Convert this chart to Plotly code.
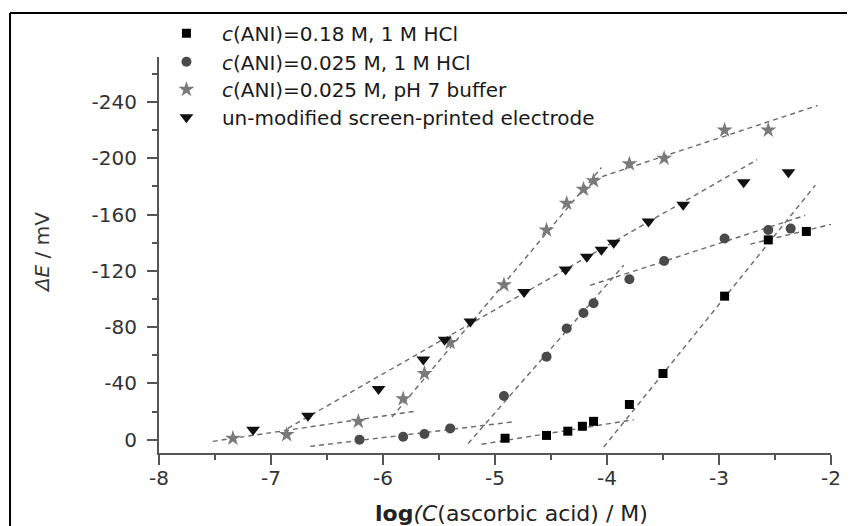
import plotly.graph_objects as go

# ---- data ----
x_sq = [-4.91, -4.54, -4.35, -4.22, -4.12, -3.80, -3.50, -2.95, -2.56, -2.22]
y_sq = [-1, -3, -6, -9.5, -13, -25, -47, -102, -142, -148]

x_ci = [-6.21, -5.82, -5.63, -5.40, -4.92, -4.54, -4.36, -4.21, -4.12, -3.80, -3.49, -2.95, -2.56, -2.36]
y_ci = [0, -2, -4, -8, -31, -59, -79, -90, -97, -114, -127, -143, -149, -150]

x_st = [-7.34, -6.86, -6.22, -5.82, -5.63, -5.40, -4.92, -4.54, -4.36, -4.21, -4.12, -3.80, -3.49, -2.95, -2.56]
y_st = [-1, -3.5, -13, -29, -47, -69, -110, -149, -168, -178, -184, -196, -200, -220, -220]

x_tr = [-7.16, -6.67, -6.04, -5.64, -5.45, -5.22, -4.74, -4.37, -4.18, -4.05, -3.94, -3.63, -3.32, -2.78, -2.38]
y_tr = [-7, -17, -36, -57, -71, -84, -105, -121, -130, -135, -140, -155, -167, -183, -190]

# dashed linear-fit segments (endpoints)
fit_sq_x = [[-5.12, -3.76], [-4.03, -2.14], [-2.72, -1.95]]
fit_sq_y = [[3.3, -14.2], [5.3, -180.8], [-139, -154]]
fit_ci_x = [[-6.65, -4.85], [-5.24, -3.85], [-4.15, -2.23]]
fit_ci_y = [[4.8, -12.5], [2.8, -124], [-109.7, -159.4]]
fit_st_x = [[-7.52, -5.72], [-5.92, -4.05], [-4.12, -2.12]]
fit_st_y = [[1.2, -20.1], [-16, -193.4], [-185, -237.5]]
fit_tr_x = [[-6.85, -2.66]]
fit_tr_y = [[-8, -199]]

names = ["<i>c</i>(ANI)=0.18 M, 1 M HCl",
         "<i>c</i>(ANI)=0.025 M, 1 M HCl",
         "<i>c</i>(ANI)=0.025 M, pH 7 buffer",
         "un-modified screen-printed electrode"]

x_ticks = [-8, -7, -6, -5, -4, -3, -2]
y_ticks = [0, -40, -80, -120, -160, -200, -240]

FONT = "DejaVu Sans"
fig = go.Figure()

# fit lines
for fx, fy in [(fit_sq_x, fit_sq_y), (fit_ci_x, fit_ci_y), (fit_st_x, fit_st_y), (fit_tr_x, fit_tr_y)]:
    for sx, sy in zip(fx, fy):
        fig.add_trace(go.Scatter(x=sx, y=sy, mode="lines", showlegend=False, hoverinfo="skip",
                                 line=dict(color="#6a6a6a", width=1.4, dash="5px,4px")))

series = [
    (x_sq, y_sq, "square", "#000000", 9, "legend"),
    (x_ci, y_ci, "circle", "#4a4a4a", 10, "legend2"),
    (x_st, y_st, "star", "#7a7a7a", 12, "legend3"),
    (x_tr, y_tr, "triangle-down", "#111111", 12, "legend4"),
]
for (xs, ys, sym, col, sz, lg), nm in zip(series, names):
    fig.add_trace(go.Scatter(x=xs, y=ys, mode="markers", name=nm, legend=lg,
                             marker=dict(symbol=sym, color=col, size=sz, line=dict(width=0))))

leg_rows = [1.06, 0.988, 0.918, 0.848]
leg_common = dict(x=-0.012, xanchor="left", yanchor="middle", bgcolor="rgba(0,0,0,0)",
                  font=dict(family=FONT, size=20, color="#1a1a1a"), itemwidth=61,
                  borderwidth=0)

# the page adds an 8px body margin, so the figure is sized/margined to compensate
fig.update_layout(
    template="none",
    width=847, height=518,
    margin=dict(l=151, r=24, t=49, b=73, autoexpand=False),
    paper_bgcolor="white", plot_bgcolor="white",
    font=dict(family=FONT, size=20, color="#333333"),
    legend=dict(y=leg_rows[0], **leg_common),
    legend2=dict(y=leg_rows[1], **leg_common),
    legend3=dict(y=leg_rows[2], **leg_common),
    legend4=dict(y=leg_rows[3], **leg_common),
    xaxis=dict(range=[-8, -2], tickvals=x_ticks, ticktext=[str(v) for v in x_ticks],
               automargin=False, ticklabelstandoff=-4,
               ticks="outside", ticklen=10, tickwidth=1.5, tickcolor="#555555",
               showline=True, linecolor="#555555", linewidth=2, showgrid=False, zeroline=False,
               minor=dict(dtick=0.5, tick0=-8, ticks="outside", ticklen=5, tickwidth=1.5,
                          tickcolor="#555555", showgrid=False),
               tickfont=dict(family=FONT, size=20, color="#333333")),
    yaxis=dict(range=[9.5, -272], tickvals=y_ticks, ticktext=[str(v) for v in y_ticks],
               automargin=False,
               ticks="outside", ticklen=10, tickwidth=1.5, tickcolor="#555555",
               showline=True, linecolor="#555555", linewidth=2, showgrid=False, zeroline=False,
               ticklabelstandoff=6,
               minor=dict(dtick=20, tick0=0, ticks="outside", ticklen=5, tickwidth=1.5,
                          tickcolor="#555555", showgrid=False),
               tickfont=dict(family=FONT, size=20, color="#333333")),
    annotations=[
        dict(text="<b>log</b><i>(C</i>(ascorbic acid) / M)", xref="paper", yref="paper",
             x=0.525, y=-0.152, xanchor="center", yanchor="middle", showarrow=False,
             font=dict(family=FONT, size=22, color="#222222")),
        dict(text="<i>ΔE</i> / mV", xref="paper", yref="paper", textangle=-90,
             x=-0.174, y=0.505, xanchor="center", yanchor="middle", showarrow=False,
             font=dict(family=FONT, size=20, color="#333333")),
    ],
    shapes=[
        dict(type="line", xref="paper", yref="paper", x0=-0.2217, x1=-0.2217, y0=1.111, y1=-0.2,
             line=dict(color="black", width=2)),
        dict(type="line", xref="paper", yref="paper", x0=-0.2217, x1=1.04, y0=1.111, y1=1.111,
             line=dict(color="black", width=2)),
    ],
)

fig.write_html("out.html")
